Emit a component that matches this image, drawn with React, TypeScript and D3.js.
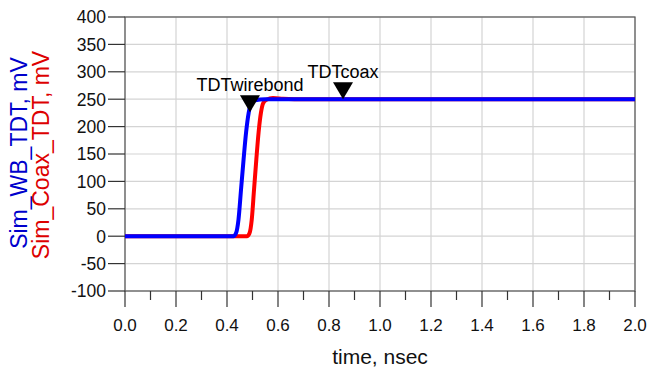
// TDT step response plot (wirebond vs coax)
import React, { useEffect, useRef } from 'react';
import * as d3 from 'd3';

// time in nsec, values in mV
const wbTime = [0, 0.425, 0.435, 0.445, 0.455, 0.465, 0.475, 0.485, 0.495, 0.51, 0.55, 2.0];
const wbValue = [0, 0, 5, 30, 85, 140, 190, 225, 243, 248, 250, 250];
const coaxTime = [0, 0.478, 0.488, 0.497, 0.506, 0.515, 0.524, 0.533, 0.542, 0.555, 0.58, 0.62, 0.7, 2.0];
const coaxValue = [0, 0, 5, 30, 85, 140, 190, 225, 243, 249, 252, 251, 250, 250];

const xTicks = [0, 0.2, 0.4, 0.6, 0.8, 1.0, 1.2, 1.4, 1.6, 1.8, 2.0];
const xMinorTicks = [0.1, 0.3, 0.5, 0.7, 0.9, 1.1, 1.3, 1.5, 1.7, 1.9];
const yTicks = [-100, -50, 0, 50, 100, 150, 200, 250, 300, 350, 400];

const markerNames = ['TDTwirebond', 'TDTcoax'];
const markerTime = [0.49, 0.855];
const markerValue = [226, 250];

const FONT = 'Arial, "Liberation Sans", sans-serif';

const App: React.FC = () => {
  const ref = useRef<SVGSVGElement>(null);

  useEffect(() => {
    if (!ref.current) return;
    const svg = d3.select(ref.current);
    svg.selectAll('*').remove();

    const width = 658;
    const height = 372;
    const margin = { top: 17, right: 23, bottom: 81, left: 125 };
    const plotWidth = width - margin.left - margin.right;
    const plotHeight = height - margin.top - margin.bottom;

    svg.attr('width', width).attr('height', height);

    const g = svg.append('g')
      .attr('transform', `translate(${margin.left},${margin.top})`);

    const x = d3.scaleLinear().domain([0, 2]).range([0, plotWidth]);
    const y = d3.scaleLinear().domain([-100, 400]).range([plotHeight, 0]);

    // grid
    g.selectAll('.vgrid')
      .data(xTicks)
      .enter().append('line')
      .attr('x1', d => x(d)).attr('x2', d => x(d))
      .attr('y1', 0).attr('y2', plotHeight)
      .attr('stroke', '#d4d4d4').attr('stroke-width', 1.2);

    g.selectAll('.hgrid')
      .data(yTicks)
      .enter().append('line')
      .attr('x1', 0).attr('x2', plotWidth)
      .attr('y1', d => y(d)).attr('y2', d => y(d))
      .attr('stroke', '#d4d4d4').attr('stroke-width', 1.2);

    // frame
    g.append('rect')
      .attr('x', 0).attr('y', 0)
      .attr('width', plotWidth).attr('height', plotHeight)
      .attr('fill', 'none')
      .attr('stroke', '#555').attr('stroke-width', 1.2);

    // y ticks (outside, left)
    g.selectAll('.ytick')
      .data(yTicks)
      .enter().append('line')
      .attr('x1', -17).attr('x2', 0)
      .attr('y1', d => y(d)).attr('y2', d => y(d))
      .attr('stroke', '#333').attr('stroke-width', 1.2);

    g.selectAll('.ylabel')
      .data(yTicks)
      .enter().append('text')
      .attr('x', -19)
      .attr('y', d => y(d))
      .attr('dy', '0.36em')
      .attr('text-anchor', 'end')
      .style('font-family', FONT)
      .style('font-size', '17.5px')
      .attr('fill', '#111')
      .text(d => String(d));

    // x ticks (outside, bottom)
    g.selectAll('.xtick')
      .data(xTicks)
      .enter().append('line')
      .attr('x1', d => x(d)).attr('x2', d => x(d))
      .attr('y1', plotHeight).attr('y2', plotHeight + 16)
      .attr('stroke', '#333').attr('stroke-width', 1.2);

    g.selectAll('.xminor')
      .data(xMinorTicks)
      .enter().append('line')
      .attr('x1', d => x(d)).attr('x2', d => x(d))
      .attr('y1', plotHeight).attr('y2', plotHeight + 9)
      .attr('stroke', '#333').attr('stroke-width', 1.2);

    g.selectAll('.xlabel')
      .data(xTicks)
      .enter().append('text')
      .attr('x', d => x(d))
      .attr('y', plotHeight + 40)
      .attr('text-anchor', 'middle')
      .style('font-family', FONT)
      .style('font-size', '17px')
      .attr('fill', '#111')
      .text(d => d.toFixed(1));

    // axis titles
    g.append('text')
      .attr('x', plotWidth / 2)
      .attr('y', plotHeight + 73)
      .attr('text-anchor', 'middle')
      .style('font-family', FONT)
      .style('font-size', '21px')
      .attr('fill', '#111')
      .text('time, nsec');

    svg.append('text')
      .attr('transform', `translate(27,${153}) rotate(-90)`)
      .attr('text-anchor', 'middle')
      .style('font-family', FONT)
      .style('font-size', '23px')
      .attr('fill', '#0000cc')
      .text('Sim_WB_TDT, mV');

    svg.append('text')
      .attr('transform', `translate(49,${155}) rotate(-90)`)
      .attr('text-anchor', 'middle')
      .style('font-family', FONT)
      .style('font-size', '23px')
      .attr('fill', '#dd0000')
      .text('Sim_Coax_TDT, mV');

    // curves
    const line = d3.line<[number, number]>()
      .x(d => x(d[0]))
      .y(d => y(d[1]))
      .curve(d3.curveMonotoneX);

    const coax: [number, number][] = coaxTime.map((t, i) => [t, coaxValue[i]]);
    const wb: [number, number][] = wbTime.map((t, i) => [t, wbValue[i]]);

    g.append('path')
      .datum(coax)
      .attr('fill', 'none')
      .attr('stroke', '#ff0000')
      .attr('stroke-width', 4)
      .attr('d', line);

    g.append('path')
      .datum(wb)
      .attr('fill', 'none')
      .attr('stroke', '#0000ff')
      .attr('stroke-width', 4)
      .attr('d', line);

    // markers
    markerNames.forEach((name, i) => {
      const mx = x(markerTime[i]);
      const my = y(markerValue[i]);
      g.append('path')
        .attr('d', `M${mx},${my} L${mx - 10},${my - 17} L${mx + 10},${my - 17} Z`)
        .attr('fill', '#000');
      g.append('text')
        .attr('x', mx)
        .attr('y', my - 21)
        .attr('text-anchor', 'middle')
        .style('font-family', FONT)
        .style('font-size', '18px')
        .attr('fill', '#000')
        .text(name);
    });
  }, []);

  return (
    <svg ref={ref} style={{ position: 'absolute', left: 0, top: 0, background: '#fff' }}></svg>
  );
};

export default App;
